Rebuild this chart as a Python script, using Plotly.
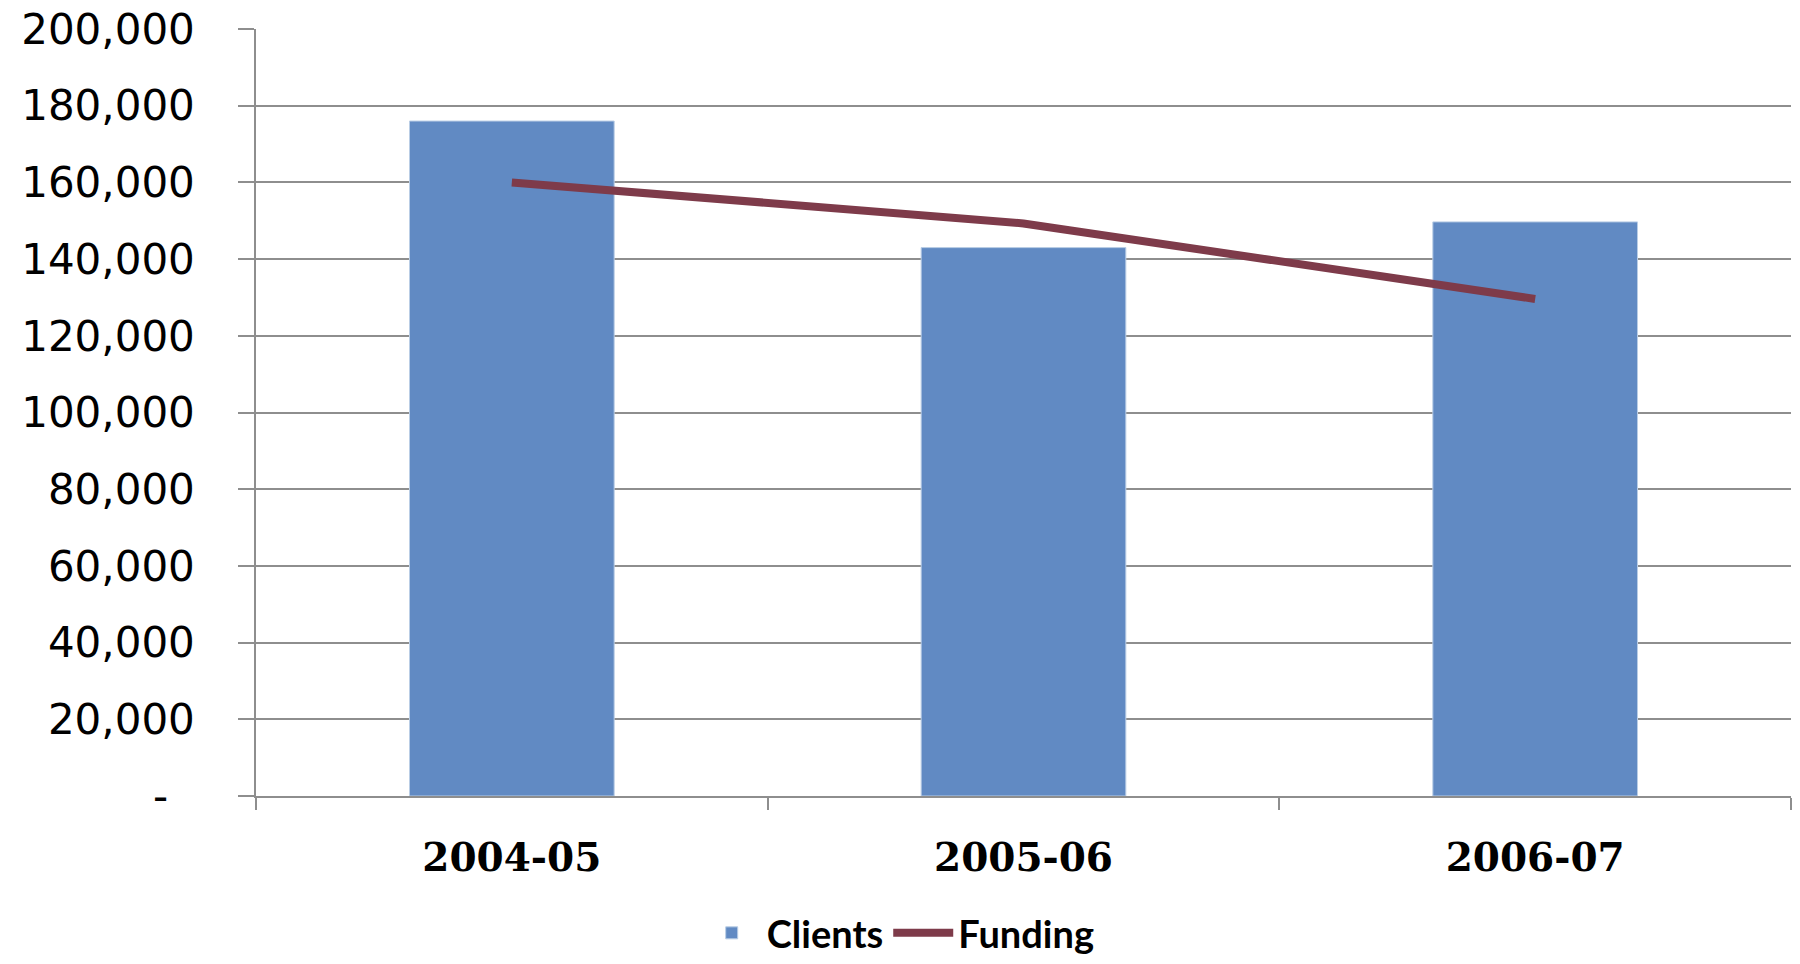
import plotly.graph_objects as go

years = ["2004-05", "2005-06", "2006-07"]
clients = [176000, 143000, 149700]
funding = [160000, 149300, 129600]
y_ticks = [0, 20000, 40000, 60000, 80000, 100000, 120000, 140000, 160000, 180000, 200000]
y_ticktext = ["-\u00a0\u00a0"] + [f"{v:,}" for v in y_ticks[1:]]

fig = go.Figure()
fig.add_trace(go.Bar(
    x=years, y=clients, name="Clients",
    marker=dict(color="#618AC3", line=dict(color="#B9CDE5", width=1)),
))
fig.add_trace(go.Scatter(
    x=years, y=funding, name="Funding", mode="lines",
    line=dict(color="#7E3B4A", width=8),
))

fig.update_layout(
    width=1800, height=964,
    margin=dict(l=256, r=9, t=29, b=168, autoexpand=False),
    paper_bgcolor="white", plot_bgcolor="white",
    bargap=0.6,
    showlegend=True,
    legend=dict(
        orientation="h", xref="container", yref="container",
        x=0.499, xanchor="center", y=0.032, yanchor="middle",
        font=dict(family="Lato", size=38, color="black", weight="bold"),
        itemwidth=60, traceorder="normal",
    ),
    xaxis=dict(
        type="category", showgrid=False,
        showline=True, linecolor="#8E8E8E", linewidth=1.5,
        ticks="outside", tickson="boundaries", ticklen=12, tickcolor="#8E8E8E", tickwidth=1.5,
        tickfont=dict(family="DejaVu Serif", size=39, color="black", weight="bold"),
        ticklabelstandoff=26,
    ),
    yaxis=dict(
        range=[0, 200000], tickvals=y_ticks, ticktext=y_ticktext,
        showgrid=True, gridcolor="#8E8E8E", gridwidth=1.5,
        showline=True, linecolor="#8E8E8E", linewidth=1.5,
        ticks="outside", ticklen=16, tickcolor="#8E8E8E", tickwidth=1.5,
        tickfont=dict(family="DejaVu Sans", size=42, color="black"),
        ticklabelstandoff=35, zeroline=False,
    ),
)

fig.write_html("out.html")
